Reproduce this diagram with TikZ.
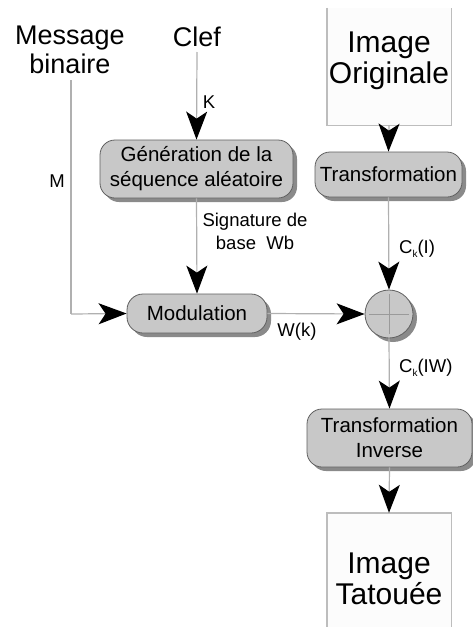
\documentclass[tikz,border=0pt]{standalone}
\usepackage{fontspec}
\setmainfont{Liberation Sans}
\usetikzlibrary{arrows.meta,shapes.geometric,shadows}

\definecolor{wire}{HTML}{B0B0B0}
\definecolor{boxfill}{HTML}{C8C8C8}
\definecolor{boxedge}{HTML}{606060}
\definecolor{shadowgray}{HTML}{8A8A8A}
\definecolor{crossgray}{HTML}{9A9A9A}
\definecolor{frame}{HTML}{BDBDBD}

\tikzset{
  big/.style={font=\fontsize{27}{29}\selectfont, align=center, inner sep=0pt},
  huge/.style={font=\fontsize{30}{31}\selectfont, align=center, inner sep=0pt},
  lbl/.style={font=\fontsize{18.5}{23}\selectfont, align=center, inner sep=0pt},
  procbox/.style={draw=boxedge, fill=boxfill, line width=0.8pt, rounded corners=15pt,
    align=center, inner sep=0pt, font=\fontsize{20.5}{25}\selectfont,
    general shadow={fill=shadowgray, shadow xshift=4pt, shadow yshift=-4pt}},
  imgbox/.style={fill=white!99!black, inner sep=0pt, align=center},
  wireline/.style={draw=wire, line width=1.2pt},
  flow/.style={wireline, -{Stealth[length=28pt,width=21pt,inset=7pt,color=black]}},
}

\newcommand{\subk}{\raisebox{-0.45ex}{\fontsize{10}{10}\selectfont k}}

\begin{document}
\begin{tikzpicture}[x=1pt,y=-1pt]
\useasboundingbox (0,0) rectangle (473,627);
\fill[white] (0,0) rectangle (473,627);

% sources
\node[big] (msg) at (70,50) {Message\\binaire};
\node[big] (clef) at (197,37) {Clef};
\coordinate (msgtop) at (71,80);
\coordinate (clefbot) at (197,52);
\coordinate (msgcorner) at (71,314);

% original image frame (open at the top)
\node[imgbox, minimum width=124pt, minimum height=117pt] (orig) at (389,66.5) {};
\draw[frame, line width=1.4pt] (orig.north west) -- (orig.south west) -- (orig.south east) -- (orig.north east);
\node[huge] at (389,61) {Image\\Originale};

% processing blocks
\node[procbox, minimum width=193pt, minimum height=58pt] (gen) at (196.5,169) {Génération de la\\séquence aléatoire};
\node[procbox, minimum width=147pt, minimum height=45pt] (trans) at (388.5,174.5) {Transformation};
\node[procbox, minimum width=140pt, minimum height=39pt, rounded corners=16pt] (mod) at (197,313.5) {Modulation};
\node[procbox, circle, minimum size=48pt, rounded corners=0pt] (sum) at (389,314) {};
\draw[crossgray, line width=0.8pt] (sum.center) ++(-20,0) -- ++(40,0);
\draw[crossgray, line width=0.8pt] (sum.center) ++(0,-20) -- ++(0,40);
\node[procbox, minimum width=165pt, minimum height=58pt] (inv) at (389.5,438) {Transformation\\Inverse};

% watermarked image frame (open at the bottom)
\node[imgbox, minimum width=124pt, minimum height=120pt] (tat) at (389,573) {};
\draw[frame, line width=1.4pt] (tat.south west) -- (tat.north west) -- (tat.north east) -- (tat.south east);
\node[huge] at (389,579) {Image\\Tatouée};

% connectors
\draw[flow] (clefbot) -- (gen.north);
\draw[wireline] (msgtop) -- (msgcorner);
\draw[flow] (msgcorner) -- (mod.west);
\draw[flow] (gen.south) -- (mod.north);
\draw[flow] (orig.south) -- (trans.north);
\draw[flow] (trans.south) -- (sum.north);
\draw[flow] (mod.east) -- (sum.west);
\draw[flow] (sum.south) -- (inv.north);
\draw[flow] (inv.south) -- (tat.north);

% labels
\node[lbl] (lk) at (209,102) {K};
\node[lbl] (lm) at (57,181) {M};
\node[lbl] (lsig) at (255,231) {Signature de\\base\ \ Wb};
\node[lbl] (lw) at (297,332) {W(k)};
\node[lbl, anchor=west] (lci) at (399,249) {C\subk(I)};
\node[lbl, anchor=west] (lciw) at (399,368) {C\subk(IW)};
\end{tikzpicture}
\end{document}
